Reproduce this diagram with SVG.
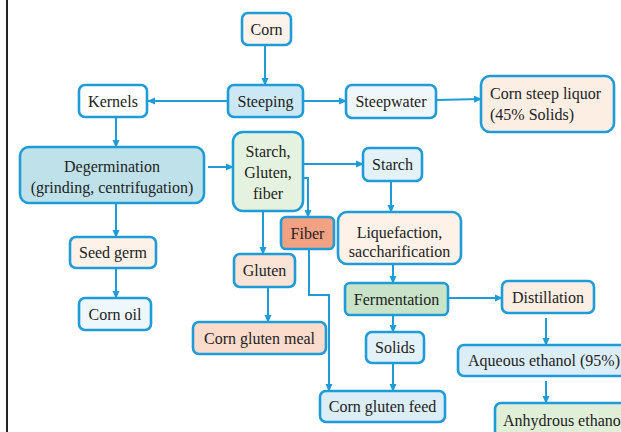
<svg xmlns="http://www.w3.org/2000/svg" width="621" height="432" viewBox="0 0 621 432">
<style>
.b{stroke:#1f9bd7;stroke-width:2.6}
.t{font-family:"Liberation Serif","Times New Roman",serif;font-size:16px;fill:#222}
.m{text-anchor:middle}
.c{fill:none;stroke:#1f9bd7;stroke-width:2}
</style>
<defs>
<marker id="a" markerUnits="userSpaceOnUse" markerWidth="8" markerHeight="8" refX="7" refY="4" orient="auto">
<path d="M0,0.5 L8,4 L0,7.5 z" fill="#1f9bd7"/>
</marker>
</defs>
<rect width="621" height="432" fill="#fff"/>
<line x1="7" y1="0" x2="7" y2="432" stroke="#222" stroke-width="2"/>
<g id="connectors" class="c">
<line x1="265" y1="45" x2="265" y2="85" marker-end="url(#a)"/>
<line x1="228" y1="101" x2="148" y2="101" marker-end="url(#a)"/>
<line x1="303" y1="101" x2="346" y2="101" marker-end="url(#a)"/>
<line x1="436" y1="100" x2="481" y2="99" marker-end="url(#a)"/>
<line x1="116" y1="117" x2="116" y2="147" marker-end="url(#a)"/>
<line x1="208" y1="167" x2="233" y2="167" marker-end="url(#a)"/>
<line x1="116" y1="203" x2="116" y2="237" marker-end="url(#a)"/>
<line x1="116" y1="268" x2="116" y2="298" marker-end="url(#a)"/>
<line x1="297" y1="164" x2="363" y2="164" marker-end="url(#a)"/>
<polyline points="297,178 308,178 308,217" marker-end="url(#a)"/>
<line x1="263" y1="211" x2="263" y2="254" marker-end="url(#a)"/>
<line x1="268" y1="287" x2="268" y2="322" marker-end="url(#a)"/>
<polyline points="309,249 309,295 329,295 329,391" marker-end="url(#a)"/>
<line x1="391" y1="181" x2="391" y2="212" marker-end="url(#a)"/>
<line x1="393" y1="264" x2="393" y2="283" marker-end="url(#a)"/>
<line x1="448" y1="298" x2="502" y2="298" marker-end="url(#a)"/>
<line x1="393" y1="315" x2="393" y2="332" marker-end="url(#a)"/>
<line x1="393" y1="363" x2="393" y2="391" marker-end="url(#a)"/>
<line x1="546" y1="318" x2="546" y2="345" marker-end="url(#a)"/>
<line x1="546" y1="381" x2="546" y2="403" marker-end="url(#a)"/>
</g>
<g id="corn"><rect class="b" x="242" y="13" width="49" height="32" rx="6" fill="#fdf3ea"/><text class="t m" x="266.5" y="35">Corn</text></g>
<g id="steeping"><rect class="b" x="228" y="85" width="75" height="32" rx="6" fill="#cce8f4"/><text class="t m" x="265.5" y="107">Steeping</text></g>
<g id="kernels"><rect class="b" x="79" y="85" width="68" height="32" rx="6" fill="#ffffff"/><text class="t m" x="113" y="107">Kernels</text></g>
<g id="steepwater"><rect class="b" x="346" y="85" width="90" height="33" rx="6" fill="#f0f7fb"/><text class="t m" x="391" y="107">Steepwater</text></g>
<g id="steep-liquor"><rect class="b" x="481" y="76" width="133" height="56" rx="9" fill="#fdeee4"/><text class="t" x="490" y="99">Corn steep liquor</text><text class="t" x="490" y="120">(45% Solids)</text></g>
<g id="degermination"><rect class="b" x="20" y="147" width="184" height="56" rx="9" fill="#bfe2ea"/><text class="t m" x="112" y="172">Degermination</text><text class="t m" x="112" y="193">(grinding, centrifugation)</text></g>
<g id="sgf"><rect class="b" x="233" y="132" width="70" height="79" rx="10" fill="#e5f2df"/><text class="t m" x="268" y="157">Starch,</text><text class="t m" x="268" y="178">Gluten,</text><text class="t m" x="268" y="199">fiber</text></g>
<g id="starch"><rect class="b" x="363" y="148" width="59" height="33" rx="6" fill="#e3f2f8"/><text class="t m" x="392.5" y="170">Starch</text></g>
<g id="fiber"><rect class="b" x="281" y="217" width="53" height="32" rx="5" fill="#f3a183"/><text class="t m" x="307.5" y="239">Fiber</text></g>
<g id="gluten"><rect class="b" x="234" y="254" width="61" height="33" rx="6" fill="#fbe3d6"/><text class="t m" x="264.5" y="276">Gluten</text></g>
<g id="seed-germ"><rect class="b" x="70" y="237" width="86" height="31" rx="6" fill="#fdf1e8"/><text class="t m" x="113" y="258">Seed germ</text></g>
<g id="corn-oil"><rect class="b" x="79" y="298" width="72" height="32" rx="6" fill="#eef7fb"/><text class="t m" x="115" y="320">Corn oil</text></g>
<g id="gluten-meal"><rect class="b" x="193" y="322" width="133" height="32" rx="6" fill="#fbdccc"/><text class="t m" x="259.5" y="344">Corn gluten meal</text></g>
<g id="liquefaction"><rect class="b" x="338" y="212" width="123" height="52" rx="9" fill="#fdf1e8"/><text class="t m" x="399.5" y="238">Liquefaction,</text><text class="t m" x="399.5" y="257">saccharification</text></g>
<g id="fermentation"><rect class="b" x="345" y="283" width="103" height="32" rx="5" fill="#c8e3c8"/><text class="t m" x="396.5" y="305">Fermentation</text></g>
<g id="distillation"><rect class="b" x="502" y="281" width="92" height="32" rx="6" fill="#fdeee4"/><text class="t m" x="548" y="303">Distillation</text></g>
<g id="solids"><rect class="b" x="366" y="332" width="58" height="31" rx="6" fill="#e3f2f8"/><text class="t m" x="395" y="353">Solids</text></g>
<g id="aqueous"><rect class="b" x="458" y="345" width="180" height="31" rx="6" fill="#dbeef7"/><text class="t" x="468" y="366">Aqueous ethanol (95%)</text></g>
<g id="anhydrous"><rect class="b" x="495" y="403" width="150" height="40" rx="6" fill="#e0f0d8"/><text class="t" x="503" y="426">Anhydrous ethanol</text></g>
<g id="gluten-feed"><rect class="b" x="320" y="391" width="125" height="31" rx="6" fill="#dbedf6"/><text class="t m" x="382.5" y="412">Corn gluten feed</text></g>
</svg>
